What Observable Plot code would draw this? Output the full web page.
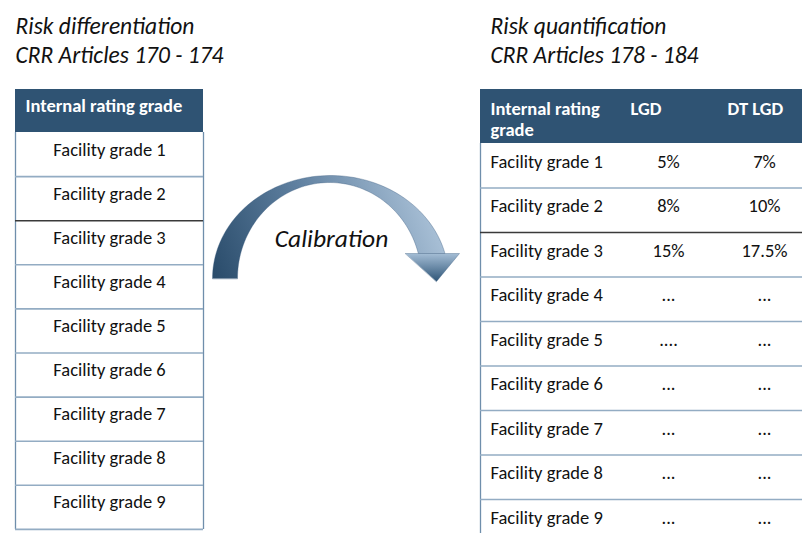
<!DOCTYPE html>
<html><head><meta charset="utf-8">
<script src="https://cdn.jsdelivr.net/npm/d3@7"></script>
<script src="https://cdn.jsdelivr.net/npm/@observablehq/plot@0.6"></script>
<style>body{margin:0;background:#fff;} #chart svg{display:block;}</style>
</head><body><div id="chart"></div>
<script>
// ---------- content ----------
const leftTitle = ["Risk differentiation", "CRR Articles 170 - 174"];
const rightTitle = ["Risk quantification", "CRR Articles 178 - 184"];
const leftHeader = ["Internal rating grade"];
const rightHeaders = ["Internal rating\ngrade", "LGD", "DT LGD"];
const grades = ["Facility grade 1", "Facility grade 2", "Facility grade 3", "Facility grade 4",
  "Facility grade 5", "Facility grade 6", "Facility grade 7", "Facility grade 8", "Facility grade 9"];
const lgd = ["5%", "8%", "15%", "...", "....", "...", "...", "...", "..."];
const dtLgd = ["7%", "10%", "17.5%", "...", "...", "...", "...", "...", "..."];
const arrowLabel = ["Calibration"];
const emphasisedBoundary = 2; // boundary below grade 2 is drawn darker

// ---------- layout ----------
const W = 802, H = 533;
const FONT = "Carlito, Lato, 'Open Sans', sans-serif";
const FS = 18.5, FS_TITLE = 23.5, FS_ARROW = 25.5;
const L = {x1: 15, x2: 203, top: 89, head: 132, row: 44.1, textDy: 17.1, textX: 109, headX: 25, headY: 106};
const R = {x1: 480, x2: 810, top: 89, head: 143, row: 44.5, textDy: 18.1, labelX: 490,
  cols: [668, 764], headX: [490, 630, 727], headY: 99, lineHeight: 1.16};
const TITLE = {y0: 25.5, dy: 29, xL: 15, xR: 490};
const HEADER_FILL = "#2F5373", SEP = "#93ACC3", SEP_DARK = "#3a3a3a", BORDER = "#6F8EAB";

// table geometry derived from the arrays
const leftRows = grades.map((g, i) => ({label: g, top: L.head + i * L.row}));
const rightRows = grades.map((g, i) => ({label: g, lgd: lgd[i], dt: dtLgd[i], top: R.head + i * R.row}));
const leftSeps = d3.range(1, grades.length + 1).map(i => ({y: L.head + i * L.row, dark: i === emphasisedBoundary}));
const rightSeps = d3.range(1, grades.length + 1).map(i => ({y: R.head + i * R.row, dark: i === emphasisedBoundary}));

// curved arrow (two elliptical arcs + head)
const A = {cx: 330, base: 278, orx: 118, ory: 103, icx: 329, irx: 92, iry: 96, headY: 253,
  headL: 405, headR: 459, tipX: 436, tipY: 281, labelX: 331, labelY: 238.8};
function arc(cx, rx, ry, t0, t1, n) {
  return d3.range(n + 1).map(k => {
    const t = t0 + (t1 - t0) * k / n;
    return {x: cx + rx * Math.cos(t), y: A.base - ry * Math.sin(t)};
  });
}
const tOut = Math.asin((A.base - A.headY) / A.ory);
const tIn = Math.asin((A.base - A.headY) / A.iry);
const shaft = [...arc(A.cx, A.orx, A.ory, Math.PI, tOut, 80), ...arc(A.icx, A.irx, A.iry, tIn, Math.PI, 80)];
const head = [{x: A.headL, y: A.headY}, {x: A.headR, y: A.headY}, {x: A.tipX, y: A.tipY}];

const txt = {fontFamily: FONT, fill: "#111"};
const chart = Plot.plot({
  width: W, height: H, margin: 0,
  x: {type: "identity", axis: null},
  y: {type: "identity", axis: null},
  style: {fontFamily: FONT, background: "#fff"},
  marks: [
    // headers
    Plot.rect([0], {x1: L.x1, x2: L.x2, y1: L.top, y2: L.head, fill: HEADER_FILL}),
    Plot.rect([0], {x1: R.x1, x2: R.x2, y1: R.top, y2: R.head, fill: HEADER_FILL}),
    // vertical borders
    Plot.ruleX([L.x1, L.x2], {x: d => d, y1: L.head, y2: L.head + grades.length * L.row, stroke: BORDER, strokeWidth: 1.3}),
    Plot.ruleX([R.x1], {x: d => d, y1: R.head, y2: H, stroke: BORDER, strokeWidth: 1.3}),
    // row separators
    Plot.ruleY(leftSeps.filter(d => !d.dark), {y: "y", x1: L.x1, x2: L.x2, stroke: SEP, strokeWidth: 1.6}),
    Plot.ruleY(rightSeps.filter(d => !d.dark), {y: "y", x1: R.x1, x2: R.x2, stroke: SEP, strokeWidth: 1.6}),
    Plot.ruleY(leftSeps.filter(d => d.dark), {y: "y", x1: L.x1, x2: L.x2, stroke: SEP_DARK, strokeWidth: 1.4}),
    Plot.ruleY(rightSeps.filter(d => d.dark), {y: "y", x1: R.x1, x2: R.x2, stroke: SEP_DARK, strokeWidth: 1.4}),
    // titles
    Plot.text(leftTitle, {x: TITLE.xL, y: (d, i) => TITLE.y0 + i * TITLE.dy, text: d => d, textAnchor: "start",
      fontSize: FS_TITLE, fontStyle: "italic", ...txt}),
    Plot.text(rightTitle, {x: TITLE.xR, y: (d, i) => TITLE.y0 + i * TITLE.dy, text: d => d, textAnchor: "start",
      fontSize: FS_TITLE, fontStyle: "italic", ...txt}),
    // header labels
    Plot.text(leftHeader, {x: L.headX, y: L.headY, text: d => d, textAnchor: "start", fontSize: FS,
      fontWeight: "bold", fill: "#fff", fontFamily: FONT}),
    Plot.text(rightHeaders, {x: (d, i) => R.headX[i], y: R.headY, text: d => d, textAnchor: "start",
      lineAnchor: "top", lineHeight: R.lineHeight, fontSize: FS, fontWeight: "bold", fill: "#fff", fontFamily: FONT}),
    // left table body
    Plot.text(leftRows, {x: L.textX, y: d => d.top + L.textDy, text: "label", textAnchor: "middle", fontSize: FS, ...txt}),
    // right table body
    Plot.text(rightRows, {x: R.labelX, y: d => d.top + R.textDy, text: "label", textAnchor: "start", fontSize: FS, ...txt}),
    Plot.text(rightRows, {x: R.cols[0], y: d => d.top + R.textDy, text: "lgd", textAnchor: "middle", fontSize: FS, ...txt}),
    Plot.text(rightRows, {x: R.cols[1], y: d => d.top + R.textDy, text: "dt", textAnchor: "middle", fontSize: FS, ...txt}),
    // arrow
    Plot.line(shaft, {x: "x", y: "y", fill: "url(#shaftGrad)", stroke: "#34577a", strokeWidth: 0.6, strokeOpacity: 0.6}),
    Plot.line(head, {x: "x", y: "y", fill: "url(#headGrad)", stroke: "#34577a", strokeWidth: 0.6, strokeOpacity: 0.6}),
    Plot.text(arrowLabel, {x: A.labelX, y: A.labelY, text: d => d, textAnchor: "middle", fontSize: FS_ARROW,
      fontStyle: "italic", ...txt})
  ]
});

// gradients for the arrow
const defs = d3.select(chart).insert("defs", ":first-child");
const g1 = defs.append("linearGradient").attr("id", "shaftGrad").attr("gradientUnits", "userSpaceOnUse")
  .attr("x1", 215).attr("y1", 280).attr("x2", 440).attr("y2", 190);
g1.append("stop").attr("offset", "0%").attr("stop-color", "#2A4C6B");
g1.append("stop").attr("offset", "45%").attr("stop-color", "#5E7F9F");
g1.append("stop").attr("offset", "100%").attr("stop-color", "#B3C9DE");
const g2 = defs.append("linearGradient").attr("id", "headGrad").attr("gradientUnits", "userSpaceOnUse")
  .attr("x1", 0).attr("y1", A.headY).attr("x2", 0).attr("y2", A.tipY);
g2.append("stop").attr("offset", "0%").attr("stop-color", "#A4BDD5");
g2.append("stop").attr("offset", "100%").attr("stop-color", "#2E5577");
// close the arrow outlines
d3.select(chart).selectAll("path").filter(function() {
  const f = this.getAttribute("fill") || (this.parentNode && this.parentNode.getAttribute("fill"));
  return f && f.startsWith("url(");
}).attr("d", function() { return this.getAttribute("d") + "Z"; });

document.getElementById("chart").appendChild(chart);
</script>
</body></html>
